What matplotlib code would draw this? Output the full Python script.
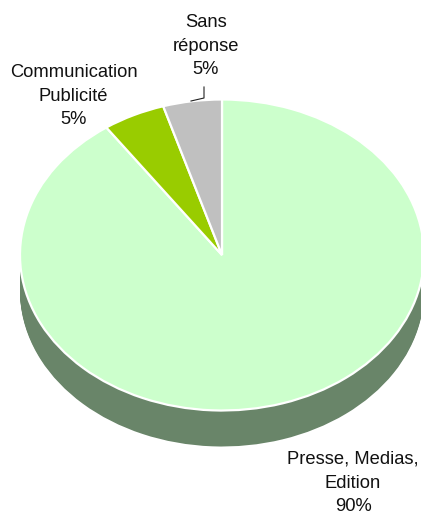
import matplotlib
matplotlib.use("Agg")
import matplotlib.pyplot as plt
import numpy as np

plt.rcParams["font.family"] = ["Liberation Sans", "DejaVu Sans"]

# parts du camembert, dans le sens horaire depuis midi
labels = ["Presse, Medias,\nEdition\n90%", "Communication\nPublicité\n5%", "Sans\nréponse\n5%"]
values = [90.3, 5.0, 4.7]
colors = ["#CCFFCC", "#99CC00", "#C0C0C0"]
side_color = "#698569"

W, H = 421, 515
cx, cy = 222, 255
rx, ry = 202, 155.5
depth = 36

fig = plt.figure(figsize=(W / 100, H / 100), dpi=100)
ax = fig.add_axes([0, 0, 1, 1])

# epaisseur : on empile des camemberts sombres
for off in np.arange(depth, 0, -1):
    ax.pie(values, startangle=90, counterclock=False, radius=1, center=(0, -off / ry),
           colors=[side_color] * 3, frame=True)

# dessus
ax.pie(values, startangle=90, counterclock=False, radius=1, center=(0, 0), colors=colors,
       frame=True, wedgeprops={"edgecolor": "white", "linewidth": 1.6})

ax.set_aspect("auto")
ax.set_xlim(-cx / rx, (W - cx) / rx)
ax.set_ylim((cy - H) / ry, cy / ry)
ax.axis("off")


def px(x, y):
    return (x - cx) / rx, (cy - y) / ry


# textes
text_pos = [(353, 483), (73.5, 96), (206, 46)]
for lab, (x, y) in zip(labels, text_pos):
    ax.text(*px(x, y), lab, ha="center", va="center", fontsize=13.2, color="#111111", linespacing=1.53)

# trait de rappel
line = np.array([px(204, 87), px(204, 98), px(191, 101)])
ax.plot(line[:, 0], line[:, 1], color="#222222", lw=0.8)

fig.savefig("out.png", dpi=100)
